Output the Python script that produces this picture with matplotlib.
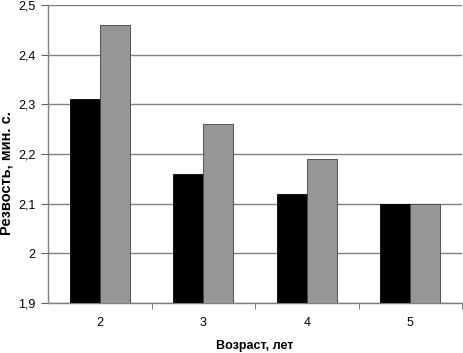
import matplotlib
matplotlib.use("Agg")
import matplotlib.pyplot as plt
import numpy as np
from matplotlib.ticker import FixedLocator, FuncFormatter

categories = ["2", "3", "4", "5"]
series_black = [2.31, 2.16, 2.12, 2.10]
series_gray = [2.46, 2.26, 2.19, 2.10]
y_ticks = [1.9, 2.0, 2.1, 2.2, 2.3, 2.4, 2.5]

plt.rcParams['font.family'] = ['Liberation Sans', 'DejaVu Sans']

fig = plt.figure(figsize=(4.63, 3.53), dpi=100)
ax = fig.add_axes([48/463, 1 - 303/353, (462-48)/463, (303-5)/353])

x = np.arange(len(categories))
w = 0.29
ax.bar(x - w/2, [v - 1.9 for v in series_black], w, bottom=1.9, color='black',
       edgecolor='black', linewidth=0.6, zorder=3)
ax.bar(x + w/2, [v - 1.9 for v in series_gray], w, bottom=1.9, color='#969696',
       edgecolor='#404040', linewidth=0.6, zorder=3)

ax.set_ylim(1.9, 2.5)
ax.set_xlim(-0.5, len(categories) - 0.5)
ax.set_yticks(y_ticks)
ax.yaxis.set_major_formatter(FuncFormatter(lambda v, p: ('%g' % round(v, 1)).replace('.', ',')))
ax.yaxis.grid(True, color='#808080', linewidth=1.0, zorder=0)
ax.set_axisbelow(True)

ax.set_xticks(x)
ax.set_xticklabels(categories)
ax.xaxis.set_minor_locator(FixedLocator(np.arange(0.5, len(categories) - 0.5 + 1e-9, 1.0)))
ax.tick_params(axis='x', which='major', length=0, pad=10, labelsize=9)
ax.tick_params(axis='x', which='minor', length=4, color='#606060', direction='out')
ax.tick_params(axis='y', length=5, color='#606060', labelsize=9, pad=4)

for s in ['top', 'right']:
    ax.spines[s].set_visible(False)
for s in ['left', 'bottom']:
    ax.spines[s].set_color('#808080')
    ax.spines[s].set_linewidth(1.0)

fig.text(7/463, 1 - 173/353, "Резвость, мин. с.", fontweight='bold', fontsize=10.5,
         rotation=90, ha='center', va='center')
ax.set_xlabel("Возраст, лет", fontweight='bold', fontsize=9, labelpad=8)

fig.savefig("out.png", dpi=100)
